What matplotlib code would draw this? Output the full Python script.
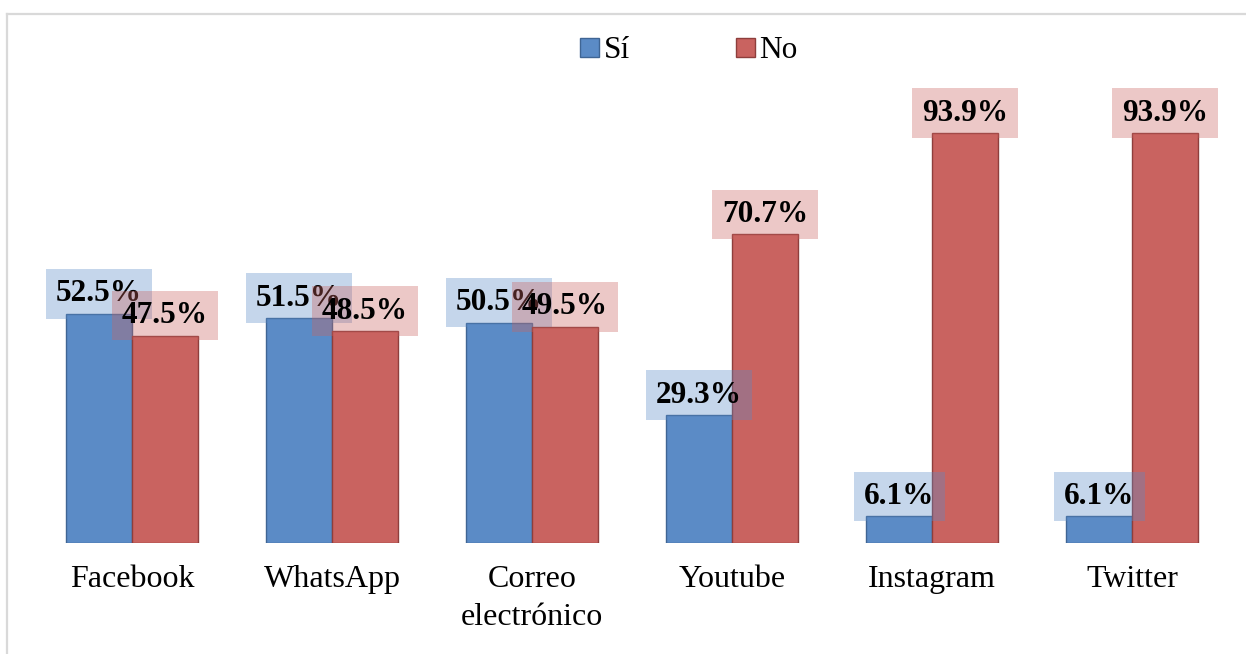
import matplotlib
matplotlib.use("Agg")
import matplotlib.pyplot as plt
from matplotlib.lines import Line2D
from matplotlib.patches import Patch
import numpy as np

categories = ["Facebook", "WhatsApp", "Correo\nelectrónico", "Youtube", "Instagram", "Twitter"]
si_values = [52.5, 51.5, 50.5, 29.3, 6.1, 6.1]
no_values = [47.5, 48.5, 49.5, 70.7, 93.9, 93.9]
series_names = ["Sí", "No"]

plt.rcParams['font.family'] = ['Liberation Serif', 'DejaVu Serif']

W, H = 1246, 654
fig = plt.figure(figsize=(W / 100, H / 100), dpi=100)
ax = fig.add_axes([32 / W, 0.1697, 1200 / W, 0.6676])

blue = '#5B8BC6'
red = '#C96360'
blue_edge = '#3F6594'
red_edge = '#8E3E3C'

x = np.arange(len(categories))
bw = 0.33
b1 = ax.bar(x - bw / 2, si_values, bw, color=blue, edgecolor=blue_edge, linewidth=1.0)
b2 = ax.bar(x + bw / 2, no_values, bw, color=red, edgecolor=red_edge, linewidth=1.0)

ax.set_xlim(-0.5, len(categories) - 0.5)
ax.set_ylim(0, 100)
for s in ax.spines.values():
    s.set_visible(False)
ax.set_yticks([])
ax.set_xticks(x)
ax.set_xticklabels(categories, fontsize=23, linespacing=1.4)
ax.tick_params(axis='x', length=0, pad=16)

def label(bars, vals, col):
    for rect, v in zip(bars, vals):
        cx = rect.get_x() + rect.get_width() / 2
        ax.annotate(f"{v:.1f}%", xy=(cx, v), xytext=(0, 20), textcoords='offset pixels',
                    ha='center', va='center', fontsize=22.5, fontweight='bold', color='black',
                    bbox=dict(boxstyle='square,pad=0.33', facecolor=col, alpha=0.35, edgecolor='none'))

label(b1, si_values, blue)
label(b2, no_values, red)

handles = [Patch(facecolor=blue, edgecolor=blue_edge), Patch(facecolor=red, edgecolor=red_edge)]
fig.legend(handles, series_names, loc='center', bbox_to_anchor=(689 / W, 1 - 51 / H),
           ncol=2, frameon=False, fontsize=22.5, handlelength=0.6, handleheight=0.6,
           handletextpad=0.15, columnspacing=3.4, borderpad=0)

# outer frame lines (top and left)
fig.add_artist(Line2D([7 / W, 1], [1 - 14 / H, 1 - 14 / H], transform=fig.transFigure,
                      color='#d9d9d9', linewidth=1.6))
fig.add_artist(Line2D([7 / W, 7 / W], [0, 1 - 14 / H], transform=fig.transFigure,
                      color='#d9d9d9', linewidth=1.6))

fig.savefig("out.png", dpi=100)
